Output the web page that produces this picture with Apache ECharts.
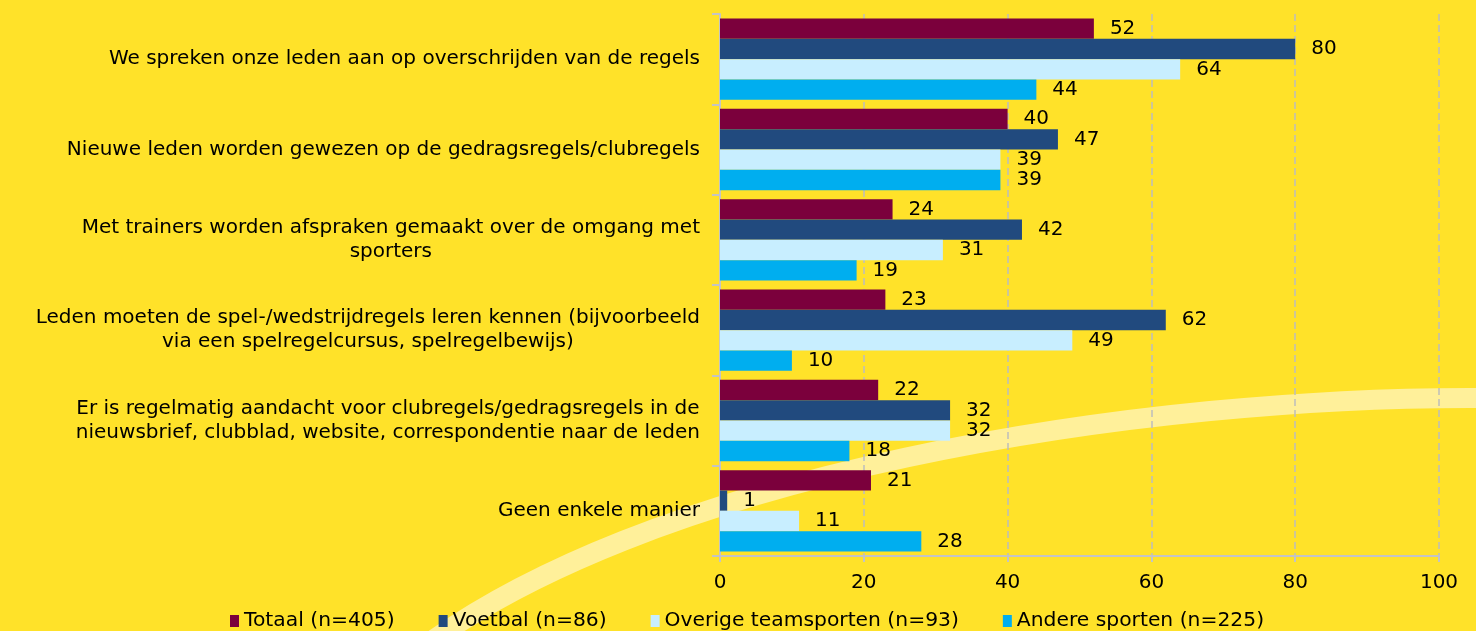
<!DOCTYPE html>
<html>
<head>
<meta charset="utf-8">
<script src="https://cdn.jsdelivr.net/npm/echarts@6/dist/echarts.min.js"></script>
<style>
html,body{margin:0;padding:0;background:#FFE229;}
#chart{width:1476px;height:631px;}
</style>
</head>
<body>
<div id="chart"></div>
<script>
const categories = [
  "We spreken onze leden aan op overschrijden van de regels",
  "Nieuwe leden worden gewezen op de gedragsregels/clubregels",
  "Met trainers worden afspraken gemaakt over de omgang met\nsporters",
  "Leden moeten de spel-/wedstrijdregels leren kennen (bijvoorbeeld\nvia een spelregelcursus, spelregelbewijs)",
  "Er is regelmatig aandacht voor clubregels/gedragsregels in de\nnieuwsbrief, clubblad, website, correspondentie naar de leden",
  "Geen enkele manier"
];
const seriesNames = ["Totaal (n=405)", "Voetbal (n=86)", "Overige teamsporten (n=93)", "Andere sporten (n=225)"];
const totaal = [52, 40, 24, 23, 22, 21];
const voetbal = [80, 47, 42, 62, 32, 1];
const overige = [64, 39, 31, 49, 32, 11];
const andere = [44, 39, 19, 10, 18, 28];
const xTicks = [0, 20, 40, 60, 80, 100];

const colors = ["#7B003C", "#214A7E", "#C8EEFF", "#00AEEF"];
const dataSets = [totaal, voetbal, overige, andere];
const FONT = "DejaVu Sans";
const FS = 20;

const chart = echarts.init(document.getElementById('chart'), null, {renderer: 'canvas'});
const option = {
  backgroundColor: '#FFE229',
  animation: false,
  textStyle: {fontFamily: FONT},
  graphic: [{
    type: 'bezierCurve',
    z: 0,
    silent: true,
    shape: {x1: 400, y1: 665, cpx1: 640, cpy1: 470, cpx2: 1150, cpy2: 395, x2: 1490, y2: 398},
    style: {stroke: '#FFF09A', lineWidth: 20, fill: null}
  }],
  grid: {left: 720, right: 37, top: 14, bottom: 75, containLabel: false},
  legend: {
    top: 606,
    left: 225,
    itemWidth: 9,
    itemHeight: 12,
    itemGap: 44,
    icon: 'rect',
    textStyle: {fontFamily: FONT, fontSize: 20.3, color: '#000'},
    data: seriesNames
  },
  xAxis: {
    type: 'value',
    min: 0, max: 100, interval: 20,
    axisLine: {show: true, lineStyle: {color: '#C4C4C4', width: 2}},
    axisTick: {show: true, length: 6, lineStyle: {color: '#C4C4C4', width: 2}},
    splitLine: {show: true, lineStyle: {color: '#BDBDBD', type: [7, 4], width: 1.5}},
    axisLabel: {
      margin: 17, fontSize: FS, color: '#000', fontFamily: FONT,
      formatter: v => xTicks.includes(v) ? String(v) : ''
    }
  },
  yAxis: {
    type: 'category',
    inverse: true,
    data: categories,
    axisLine: {show: true, lineStyle: {color: '#C4C4C4', width: 2}},
    axisTick: {show: true, length: 8, lineStyle: {color: '#C4C4C4', width: 2}},
    axisLabel: {
      margin: 20,
      align: 'right',
      fontSize: FS, color: '#000', fontFamily: FONT, lineHeight: 24,
      formatter: v => v.split('\n').map(l => '{c|' + l + '}').join('\n'),
      rich: {c: {align: 'center', fontSize: FS, fontFamily: FONT, color: '#000', lineHeight: 24}}
    }
  },
  series: dataSets.map((d, i) => ({
    name: seriesNames[i],
    type: 'bar',
    data: d,
    barGap: '0%',
    barCategoryGap: '10%',
    z: 2,
    itemStyle: {color: colors[i]},
    label: {show: true, position: 'right', distance: 16, fontSize: FS, color: '#000', fontFamily: FONT}
  }))
};
chart.setOption(option);
</script>
</body>
</html>
